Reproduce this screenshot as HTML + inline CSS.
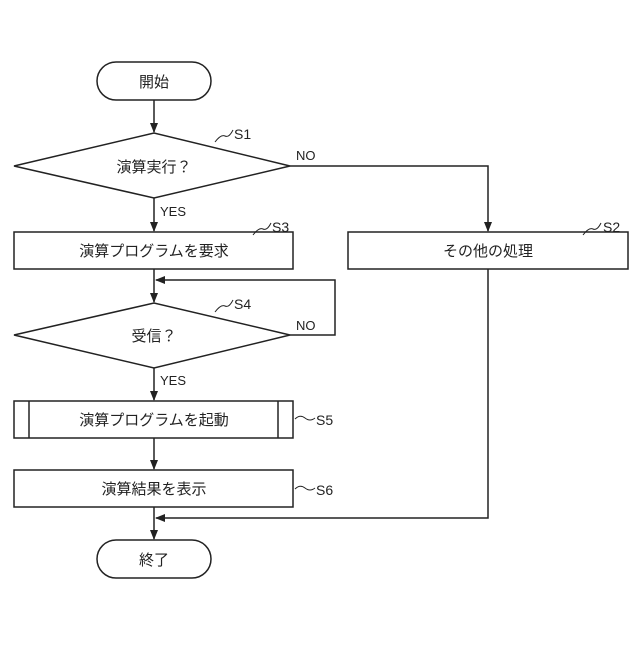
<!DOCTYPE html>
<html><head><meta charset="utf-8"><style>body{margin:0;background:#fff}</style></head><body>
<svg width="640" height="640" viewBox="0 0 640 640" xmlns="http://www.w3.org/2000/svg" font-family="'Liberation Sans','Noto Sans CJK JP',sans-serif" font-size="15" fill="none" stroke="#222" stroke-width="1.5">
<defs><marker id="a" markerWidth="10" markerHeight="10" refX="9" refY="5" orient="auto" markerUnits="userSpaceOnUse"><path d="M0,1 L10,5 L0,9 Z" fill="#222" stroke="none"/></marker></defs>
<rect x="97" y="62" width="114" height="38" rx="19"/>
<line x1="154" y1="100" x2="154" y2="132" marker-end="url(#a)"/>
<polygon points="14,166 154,133 290,166 154,198"/>
<line x1="154" y1="198" x2="154" y2="231" marker-end="url(#a)"/>
<polyline points="290,166 488,166 488,231" marker-end="url(#a)"/>
<rect x="14" y="232" width="279" height="37"/>
<rect x="348" y="232" width="280" height="37"/>
<line x1="154" y1="269" x2="154" y2="302" marker-end="url(#a)"/>
<polyline points="290,335 335,335 335,280 156,280" marker-end="url(#a)"/>
<polygon points="14,335 154,303 290,335 154,368"/>
<line x1="154" y1="368" x2="154" y2="400" marker-end="url(#a)"/>
<rect x="14" y="401" width="279" height="37"/>
<line x1="29" y1="401" x2="29" y2="438"/><line x1="278" y1="401" x2="278" y2="438"/>
<line x1="154" y1="438" x2="154" y2="469" marker-end="url(#a)"/>
<rect x="14" y="470" width="279" height="37"/>
<line x1="154" y1="507" x2="154" y2="539" marker-end="url(#a)"/>
<polyline points="488,269 488,518 156,518" marker-end="url(#a)"/>
<rect x="97" y="540" width="114" height="38" rx="19"/>
<path d="M215,142 q6,-8 10,-6 q4,2 8,-6" stroke-width="1"/>
<path d="M253,235 q6,-8 10,-6 q4,2 8,-6" stroke-width="1"/>
<path d="M583,235 q6,-8 10,-6 q4,2 8,-6" stroke-width="1"/>
<path d="M215,312 q6,-8 10,-6 q4,2 8,-6" stroke-width="1"/>
<path d="M295,419 q5,-5 10,-1 q5,4 10,0" stroke-width="1"/>
<path d="M295,489 q5,-5 10,-1 q5,4 10,0" stroke-width="1"/>
<g fill="#222" stroke="none">
<text x="154" y="87" text-anchor="middle">開始</text>
<text x="154" y="172" text-anchor="middle">演算実行？</text>
<text x="154" y="256" text-anchor="middle">演算プログラムを要求</text>
<text x="488" y="256" text-anchor="middle">その他の処理</text>
<text x="154" y="341" text-anchor="middle">受信？</text>
<text x="154" y="425" text-anchor="middle">演算プログラムを起動</text>
<text x="154" y="494" text-anchor="middle">演算結果を表示</text>
<text x="154" y="565" text-anchor="middle">終了</text>
<g font-size="14">
<text x="234" y="139">S1</text><text x="603" y="232">S2</text><text x="272" y="232">S3</text><text x="234" y="309">S4</text>
<text x="316" y="425">S5</text><text x="316" y="495">S6</text>
<text x="296" y="160" font-size="13">NO</text><text x="296" y="330" font-size="13">NO</text>
<text x="160" y="216" font-size="13">YES</text><text x="160" y="385" font-size="13">YES</text>
</g></g>
</svg>
</body></html>
